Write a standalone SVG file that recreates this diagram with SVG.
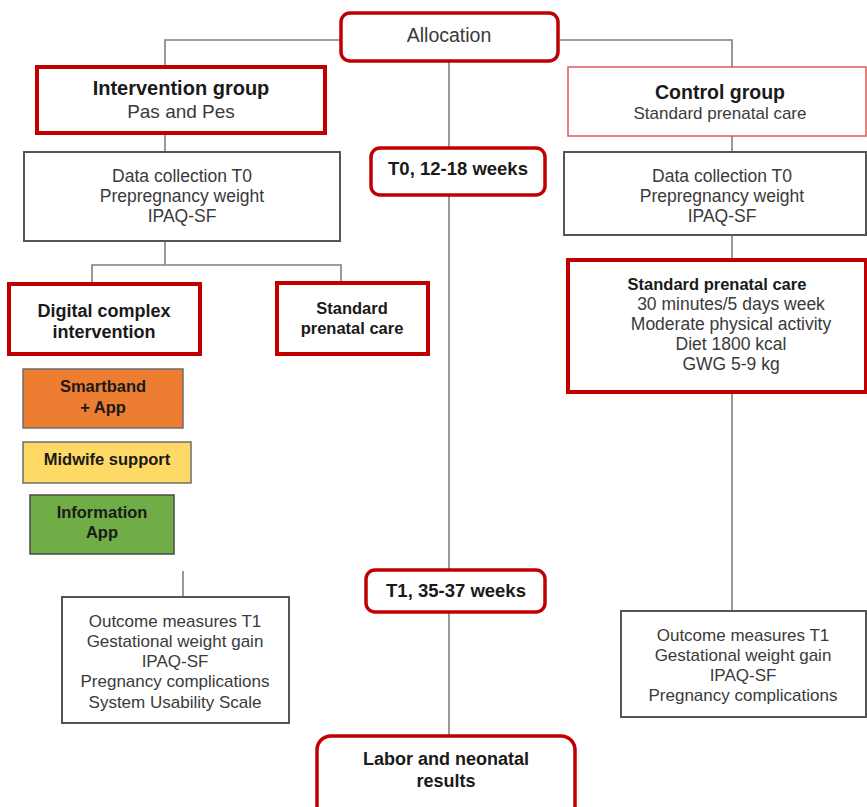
<svg xmlns="http://www.w3.org/2000/svg" width="867" height="807" viewBox="0 0 867 807">
<style>
text{font-family:"Liberation Sans",Arial,sans-serif;text-anchor:middle;fill:#3a3a3a;font-size:17.5px}
.b{font-weight:bold;fill:#1a1a1a}
.red{fill:#fff;stroke:#c00000;stroke-width:4}
.redr{fill:#fff;stroke:#c00000;stroke-width:3.5}
.lite{fill:#fff;stroke:#e05a5a;stroke-width:1.5}
.blk{fill:#fff;stroke:#555;stroke-width:2}
.con{fill:none;stroke:#7f7f7f;stroke-width:1.6}
</style>
<rect width="867" height="807" fill="#fff"/>
<g id="connectors" class="con">
<polyline points="341,40 165,40 165,67"/>
<polyline points="558,40 732,40 732,67"/>
<line x1="449" y1="61" x2="449" y2="148"/>
<line x1="449" y1="195" x2="449" y2="570"/>
<line x1="449" y1="612" x2="449" y2="736"/>
<line x1="165" y1="133" x2="165" y2="152"/>
<line x1="732" y1="136" x2="732" y2="152"/>
<line x1="165" y1="241" x2="165" y2="265"/>
<polyline points="92,284 92,265 341,265 341,283"/>
<line x1="732" y1="235" x2="732" y2="260"/>
<line x1="732" y1="392" x2="732" y2="611"/>
<line x1="183" y1="571" x2="183" y2="597"/>
</g>
<g id="allocation">
<rect class="redr" x="341" y="13" width="217" height="48" rx="9"/>
<text x="449" y="42" style="font-size:19.5px">Allocation</text>
</g>
<g id="intervention-group">
<rect class="red" x="37" y="67" width="288" height="66"/>
<text class="b" x="181" y="95" style="font-size:20px">Intervention group</text>
<text x="181" y="118" style="font-size:19px">Pas and Pes</text>
</g>
<g id="control-group">
<rect class="lite" x="568" y="67" width="298" height="69"/>
<text class="b" x="720" y="99" style="font-size:19.5px">Control group</text>
<text x="720" y="119" style="font-size:17px">Standard prenatal care</text>
</g>
<g id="t0">
<rect class="redr" x="371" y="148" width="174" height="47" rx="9"/>
<text class="b" x="458" y="175" style="font-size:18.5px">T0, 12-18 weeks</text>
</g>
<g id="data-left">
<rect class="blk" x="24" y="152" width="316" height="89"/>
<text x="182" y="182">Data collection T0</text>
<text x="182" y="202">Prepregnancy weight</text>
<text x="182" y="222">IPAQ-SF</text>
</g>
<g id="data-right">
<rect class="blk" x="564" y="152" width="302" height="83"/>
<text x="722" y="182">Data collection T0</text>
<text x="722" y="202">Prepregnancy weight</text>
<text x="722" y="222">IPAQ-SF</text>
</g>
<g id="digital-complex">
<rect class="red" x="9" y="284" width="191" height="70"/>
<text class="b" x="104" y="317" style="font-size:18px">Digital complex</text>
<text class="b" x="104" y="338" style="font-size:18px">intervention</text>
</g>
<g id="standard-left">
<rect class="red" x="277" y="283" width="151" height="71"/>
<text class="b" x="352" y="314" style="font-size:16.5px">Standard</text>
<text class="b" x="352" y="334" style="font-size:16.5px">prenatal care</text>
</g>
<g id="standard-right">
<rect class="red" x="568" y="260" width="298" height="132"/>
<text class="b" x="717" y="290" style="font-size:16.5px">Standard prenatal care</text>
<text x="731" y="310">30 minutes/5 days week</text>
<text x="731" y="330">Moderate physical activity</text>
<text x="731" y="350">Diet 1800 kcal</text>
<text x="731" y="370">GWG 5-9 kg</text>
</g>
<g id="smartband">
<rect x="23" y="369" width="160" height="59" fill="#ed7d31" stroke="#6d6d6d" stroke-width="1.5"/>
<text class="b" x="103" y="392" style="font-size:16.5px">Smartband</text>
<text class="b" x="103" y="413" style="font-size:16.5px">+ App</text>
</g>
<g id="midwife">
<rect x="23" y="442" width="168" height="41" fill="#ffd966" stroke="#6d6d6d" stroke-width="1.5"/>
<text class="b" x="107" y="465" style="font-size:16.5px">Midwife support</text>
</g>
<g id="information-app">
<rect x="30" y="495" width="144" height="59" fill="#70ad47" stroke="#4a4a4a" stroke-width="1.5"/>
<text class="b" x="102" y="518" style="font-size:16.5px">Information</text>
<text class="b" x="102" y="538" style="font-size:16.5px">App</text>
</g>
<g id="t1">
<rect class="redr" x="366" y="570" width="179" height="42" rx="9"/>
<text class="b" x="456" y="597" style="font-size:18.5px">T1, 35-37 weeks</text>
</g>
<g id="outcome-left">
<rect class="blk" x="62" y="597" width="227" height="126"/>
<text x="175" y="627" style="font-size:17px">Outcome measures T1</text>
<text x="175" y="647" style="font-size:17px">Gestational weight gain</text>
<text x="175" y="667" style="font-size:17px">IPAQ-SF</text>
<text x="175" y="687" style="font-size:17px">Pregnancy complications</text>
<text x="175" y="708" style="font-size:17px">System Usability Scale</text>
</g>
<g id="outcome-right">
<rect class="blk" x="621" y="611" width="245" height="106"/>
<text x="743" y="641" style="font-size:17px">Outcome measures T1</text>
<text x="743" y="661" style="font-size:17px">Gestational weight gain</text>
<text x="743" y="681" style="font-size:17px">IPAQ-SF</text>
<text x="743" y="701" style="font-size:17px">Pregnancy complications</text>
</g>
<g id="labor">
<rect class="redr" x="317" y="736" width="258" height="90" rx="14"/>
<text class="b" x="446" y="765" style="font-size:18px">Labor and neonatal</text>
<text class="b" x="446" y="787" style="font-size:18px">results</text>
</g>
</svg>
